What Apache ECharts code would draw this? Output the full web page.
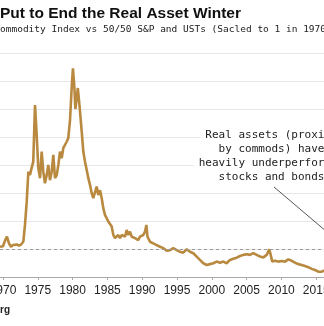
<!DOCTYPE html>
<html><head><meta charset="utf-8">
<script src="https://cdn.jsdelivr.net/npm/echarts@6/dist/echarts.min.js"></script>
<style>html,body{margin:0;padding:0;background:#fff;}#c{width:324px;height:326px;}</style>
</head><body><div id="c"></div>
<script>
const years = [1969.57,1970.0,1970.29,1970.57,1970.86,1971.15,1971.44,1971.72,1972.0,1972.3,1972.59,1972.92,1973.16,1973.41,1973.64,1973.88,1974.12,1974.35,1974.6,1974.84,1975.07,1975.32,1975.56,1975.79,1976.03,1976.28,1976.51,1976.75,1977.0,1977.23,1977.47,1977.72,1977.95,1978.19,1978.43,1978.66,1978.91,1979.15,1979.38,1979.63,1979.9,1980.05,1980.25,1980.4,1980.55,1980.75,1981.0,1981.31,1981.54,1981.78,1982.03,1982.26,1982.5,1982.74,1982.97,1983.22,1983.46,1983.69,1983.94,1984.18,1984.41,1984.66,1984.9,1985.13,1985.37,1985.62,1985.85,1986.09,1986.34,1986.57,1986.81,1987.05,1987.28,1987.53,1987.77,1988.0,1988.25,1988.49,1988.72,1988.97,1989.21,1989.44,1989.68,1989.93,1990.16,1990.4,1990.6,1990.76,1991.12,1991.59,1992.08,1992.56,1993.03,1993.52,1994.0,1994.47,1994.96,1995.43,1995.9,1996.39,1996.87,1997.34,1997.83,1998.3,1998.78,1999.27,1999.74,2000.22,2000.7,2001.18,2001.65,2002.14,2002.61,2003.09,2003.58,2004.05,2004.53,2005.01,2005.49,2005.96,2006.45,2006.93,2007.4,2007.89,2008.26,2008.46,2008.69,2009.08,2009.56,2010.04,2010.52,2010.99,2011.48,2011.95,2012.43,2012.92,2013.39,2013.86,2014.35,2014.83,2015.3,2015.79,2016.12,2016.6];
const ratio = [1.08,1.1,1.3,1.44,1.2,1.08,1.14,1.1,1.16,1.12,1.16,1.26,1.86,2.69,3.76,3.64,3.9,4.12,6.14,5.07,3.9,3.53,4.48,3.76,3.35,3.64,4.0,3.46,3.76,4.36,3.53,3.64,4.0,4.48,4.24,4.6,4.65,4.83,4.96,5.6,6.9,7.45,6.8,6.0,6.3,6.75,6.1,5.19,4.48,4.12,3.82,3.53,3.29,3.0,2.82,2.75,3.23,2.93,3.1,2.82,2.46,2.21,2.1,1.98,1.93,1.8,1.5,1.39,1.44,1.5,1.39,1.5,1.57,1.44,1.68,1.5,1.62,1.44,1.5,1.39,1.44,1.32,1.44,1.39,1.5,1.62,1.86,1.44,1.26,1.2,1.14,1.08,1.03,0.94,0.96,1.03,0.96,0.9,0.87,0.99,0.9,0.85,0.73,0.61,0.49,0.43,0.46,0.49,0.55,0.51,0.55,0.49,0.61,0.65,0.69,0.75,0.79,0.81,0.79,0.85,0.79,0.73,0.7,0.79,0.99,0.79,0.55,0.58,0.55,0.57,0.55,0.63,0.58,0.51,0.46,0.43,0.39,0.35,0.29,0.25,0.19,0.19,0.23,0.22];
const tickYears = [1970,1975,1980,1985,1990,1995,2000,2005,2010,2015];
const titleText = "Put to End the Real Asset Winter";
const subtitleText = "ommodity Index vs 50/50 S&P and USTs (Sacled to 1 in 1970)";
const noteLines = ["Real assets (proxied", "by commods) have", "heavily underperformed", "stocks and bonds"];
const sourceText = "rg";
const baseline = 1;

const chart = echarts.init(document.getElementById('c'), null, {renderer:'canvas'});
const mono = '"DejaVu Sans Mono", monospace';
const noteY = [135, 149, 163, 177];
const noteGraphics = noteLines.map((t, i) => ({
  type: 'text', x: 271.5, y: noteY[i], z: 100,
  style: {text: t, font: '11px ' + mono, fill: '#222', align: 'center', verticalAlign: 'middle',
          backgroundColor: '#fff', padding: [1, 5]}
}));
chart.setOption({
  animation: false,
  grid: {left: 0, right: 0, top: 53, bottom: 49, containLabel: false, outerBoundsMode: 'none'},
  xAxis: {
    type: 'value', min: 1969.57, max: 2016.12,
    axisLine: {show: true, lineStyle: {color: '#aaaaaa', width: 1}},
    axisTick: {show: true, length: 3, lineStyle: {color: '#aaaaaa'}, customValues: tickYears},
    splitLine: {show: false},
    axisLabel: {color: '#222', fontSize: 12, fontFamily: 'Liberation Sans, Arial, sans-serif', margin: 8,
                customValues: tickYears, formatter: v => String(v), hideOverlap: false,
                alignMinLabel: 'center', alignMaxLabel: 'center'}
  },
  yAxis: {
    type: 'value', min: 0, max: 8, interval: 1,
    axisLine: {show: false}, axisTick: {show: false}, axisLabel: {show: false},
    splitLine: {show: true, lineStyle: {color: '#e6e6e6', width: 1}}
  },
  series: [{
    type: 'line', data: years.map((y, i) => [y, ratio[i]]),
    showSymbol: false, smooth: false, clip: true,
    lineStyle: {color: '#b8893f', width: 2.6},
    markLine: {silent: true, symbol: ['none','none'], label: {show: false},
      lineStyle: {color: '#999', type: [3,3], width: 1},
      data: [{yAxis: baseline}]}
  }],
  graphic: [
    {type: 'text', left: 0, top: 6, style: {text: titleText, font: 'bold 15.5px "Liberation Sans", Arial, sans-serif', fill: '#111'}},
    {type: 'text', left: 0, top: 25, style: {text: subtitleText, font: '9.5px ' + mono, fill: '#222'}},
    {type: 'line', z: 50, shape: {x1: 274, y1: 187, x2: 340, y2: 243}, style: {stroke: '#555', lineWidth: 1}},
    ...noteGraphics,
    {type: 'text', left: 0, top: 305, style: {text: sourceText, font: 'bold 10px "Liberation Sans", Arial, sans-serif', fill: '#222'}}
  ]
});
</script></body></html>
